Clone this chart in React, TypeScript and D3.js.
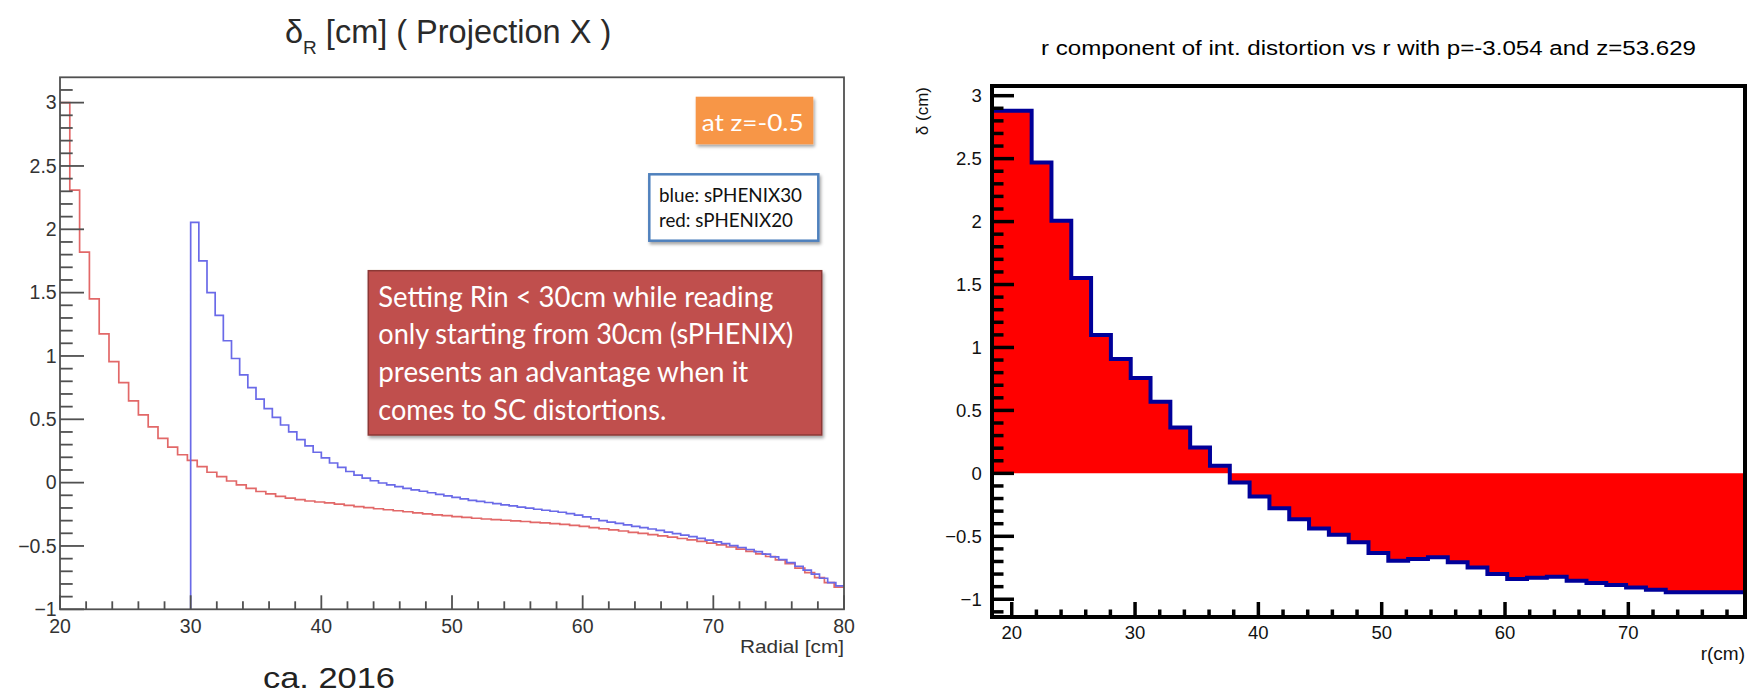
import React from 'react';
import * as d3 from 'd3';

// ---------- Left panel data (80 bins each) ----------
const redRange = [20, 80];
const redValues = [
  3.0, 2.31, 1.82, 1.45, 1.175, 0.955, 0.79, 0.645, 0.535, 0.44,
  0.35, 0.28, 0.22, 0.175, 0.126, 0.082, 0.047, 0.013, -0.018, -0.045,
  -0.07, -0.089, -0.108, -0.122, -0.134, -0.145, -0.153, -0.16, -0.17, -0.18,
  -0.189, -0.198, -0.206, -0.214, -0.222, -0.23, -0.238, -0.246, -0.254, -0.261,
  -0.268, -0.275, -0.281, -0.287, -0.292, -0.297, -0.302, -0.307, -0.313, -0.318,
  -0.324, -0.33, -0.338, -0.346, -0.355, -0.364, -0.373, -0.382, -0.392, -0.401,
  -0.41, -0.42, -0.43, -0.441, -0.452, -0.464, -0.478, -0.492, -0.508, -0.525,
  -0.543, -0.562, -0.583, -0.61, -0.64, -0.675, -0.71, -0.75, -0.79, -0.825,
];
const blueRange = [30, 80];
const blueValues = [
  2.055, 1.75, 1.5, 1.32, 1.12, 0.98, 0.85, 0.75, 0.66, 0.585,
  0.515, 0.455, 0.4, 0.34, 0.29, 0.24, 0.195, 0.155, 0.12, 0.088,
  0.06, 0.035, 0.015, -0.003, -0.018, -0.032, -0.045, -0.057, -0.068, -0.08,
  -0.092, -0.104, -0.116, -0.128, -0.14, -0.148, -0.157, -0.166, -0.176, -0.184,
  -0.193, -0.201, -0.21, -0.218, -0.226, -0.234, -0.245, -0.257, -0.27, -0.285,
  -0.3, -0.311, -0.322, -0.333, -0.345, -0.355, -0.366, -0.377, -0.39, -0.402,
  -0.414, -0.427, -0.44, -0.454, -0.468, -0.482, -0.497, -0.512, -0.528, -0.545,
  -0.565, -0.586, -0.608, -0.632, -0.66, -0.69, -0.722, -0.755, -0.79, -0.815,
];
const leftXTicks = [20, 30, 40, 50, 60, 70, 80];
const leftYTicks = [-1, -0.5, 0, 0.5, 1, 1.5, 2, 2.5, 3];

// ---------- Right panel data (38 bins) ----------
const rightRange = [18.4, 79.46];
const rightValues = [
  2.88, 2.88, 2.47, 2.006, 1.551, 1.1, 0.908, 0.757, 0.569, 0.365,
  0.206, 0.06, -0.072, -0.183, -0.278, -0.365, -0.438, -0.487, -0.548, -0.633,
  -0.694, -0.681, -0.667, -0.707, -0.747, -0.8, -0.84, -0.83, -0.822, -0.853,
  -0.871, -0.887, -0.906, -0.925, -0.945, -0.945, -0.945, -0.945,
];
const rightXTicks = [20, 30, 40, 50, 60, 70];
const rightYTicks = [-1, -0.5, 0, 0.5, 1, 1.5, 2, 2.5, 3];

const annotationLines = [
  'Setting Rin < 30cm while reading',
  'only starting from 30cm (sPHENIX)',
  'presents an advantage when it',
  'comes to SC distortions.',
];
const annotationWidths = [395, 415, 370, 288];
const legendLines = ['blue: sPHENIX30', 'red: sPHENIX20'];
const legendWidths = [143, 134];

const fmt = (v: number) => (v < 0 ? '\u2212' + Math.abs(v) : String(v));

function stepPoints(values: number[], range: number[]): [number, number][] {
  const w = (range[1] - range[0]) / values.length;
  const pts: [number, number][] = values.map((v, i) => [range[0] + i * w, v]);
  pts.push([range[1], values[values.length - 1]]);
  return pts;
}

const isMult = (v: number, m: number) => Math.abs(v / m - Math.round(v / m)) < 1e-6;

const ROOTFONT = '"Liberation Sans", Arial, Helvetica, sans-serif';
const OFFICEFONT = 'Lato, "Open Sans", sans-serif';

export default function App() {
  // Left panel scales
  const xL = d3.scaleLinear().domain([20, 80]).range([60, 844]);
  const yL = d3.scaleLinear().domain([-1, 3.2]).range([609.3, 77.3]);
  const lineL = d3
    .line<[number, number]>()
    .x((d) => xL(d[0]))
    .y((d) => yL(d[1]))
    .curve(d3.curveStepAfter);
  const redPath = lineL(stepPoints(redValues, redRange)) || '';
  const bluePath = lineL([[30, -1], ...stepPoints(blueValues, blueRange)]) || '';

  const leftYMinor = d3.range(0, 42).map((i) => +(-1 + i * 0.1).toFixed(2));
  const leftXMinor = d3.range(0, 31).map((i) => 20 + i * 2);

  // Right panel scales
  const xR = d3.scaleLinear().domain(rightRange).range([992, 1745]);
  const yR = d3.scaleLinear().domain([-1.141, 3.077]).range([617, 86]);
  const ptsR = stepPoints(rightValues, rightRange);
  const areaR =
    d3
      .area<[number, number]>()
      .x((d) => xR(d[0]))
      .y0(yR(0))
      .y1((d) => yR(d[1]))
      .curve(d3.curveStepAfter)(ptsR) || '';
  const lineR =
    d3
      .line<[number, number]>()
      .x((d) => xR(d[0]))
      .y((d) => yR(d[1]))
      .curve(d3.curveStepAfter)(ptsR) || '';
  const rightYMinor = d3.range(0, 42).map((i) => +(-1.1 + i * 0.1).toFixed(2));
  const rightXMinor = d3.range(0, 30).map((i) => 20 + i * 2).filter((v) => v < 79.46);

  const leftGray = '#505050';

  return (
    <svg
      width={1753}
      height={695}
      viewBox="0 0 1753 695"
      style={{ position: 'absolute', left: 0, top: 0, background: '#fff' }}
    >
      <defs>
        <filter id="shadow" x="-10%" y="-10%" width="130%" height="140%">
          <feDropShadow dx="1.5" dy="2.5" stdDeviation="1.5" floodColor="#000" floodOpacity="0.35" />
        </filter>
        <clipPath id="clipL">
          <rect x={60} y={77.3} width={784} height={532} />
        </clipPath>
        <clipPath id="clipR">
          <rect x={992} y={86} width={753} height={531} />
        </clipPath>
      </defs>
      <rect x={0} y={0} width={1753} height={695} fill="#fff" />

      {/* ================= LEFT PANEL ================= */}
      <text x={285} y={43} fontFamily={ROOTFONT} fontSize={32.5} fill="#2a2a2a">
        δ
        <tspan fontSize={19} dy={11}>R</tspan>
        <tspan dy={-11}> [cm] ( Projection X )</tspan>
      </text>

      <g clipPath="url(#clipL)">
        <path d={redPath} fill="none" stroke="#e26868" strokeWidth={1.7} />
        <path d={bluePath} fill="none" stroke="#6a6ae8" strokeWidth={1.7} />
      </g>

      {/* frame */}
      <rect x={60} y={77.3} width={784} height={532} fill="none" stroke={leftGray} strokeWidth={1.8} />
      {/* y ticks */}
      {leftYMinor.map((v) => (
        <line
          key={'lyt' + v}
          x1={60}
          x2={60 + (isMult(v, 0.5) ? 24 : 12.7)}
          y1={yL(v)}
          y2={yL(v)}
          stroke={leftGray}
          strokeWidth={1.8}
        />
      ))}
      {/* x ticks */}
      {leftXMinor.map((v) => (
        <line
          key={'lxt' + v}
          x1={xL(v)}
          x2={xL(v)}
          y1={609.3}
          y2={609.3 - (isMult(v, 10) ? 14 : 8)}
          stroke={leftGray}
          strokeWidth={1.8}
        />
      ))}
      {leftYTicks.map((v) => (
        <text
          key={'lyl' + v}
          x={56.7}
          y={yL(v) + 6.8}
          textAnchor="end"
          fontFamily={ROOTFONT}
          fontSize={19.5}
          fill="#333"
        >
          {fmt(v)}
        </text>
      ))}
      {leftXTicks.map((v) => (
        <text
          key={'lxl' + v}
          x={xL(v)}
          y={632.7}
          textAnchor="middle"
          fontFamily={ROOTFONT}
          fontSize={19.5}
          fill="#333"
        >
          {fmt(v)}
        </text>
      ))}
      <text x={844} y={653} textAnchor="end" fontFamily={ROOTFONT} fontSize={19} fill="#333" textLength={104} lengthAdjust="spacingAndGlyphs">
        Radial [cm]
      </text>
      <text x={263} y={688} fontFamily={ROOTFONT} fontSize={29} fill="#222" textLength={132} lengthAdjust="spacingAndGlyphs">
        ca. 2016
      </text>

      {/* orange box */}
      <rect x={695.7} y={96.7} width={117.6} height={47.6} fill="#f79646" filter="url(#shadow)" />
      <text x={701.7} y={130.7} fontFamily={OFFICEFONT} fontSize={24} fill="#fff" textLength={102} lengthAdjust="spacingAndGlyphs">
        at z=-0.5
      </text>

      {/* legend box */}
      <rect x={649.3} y={174.3} width={169} height={66.4} fill="#fff" stroke="#4f81bd" strokeWidth={2.5} filter="url(#shadow)" />
      {legendLines.map((t, i) => (
        <text
          key={t}
          x={659}
          y={201.7 + i * 25.6}
          fontFamily={OFFICEFONT}
          fontSize={19}
          fill="#111"
          textLength={legendWidths[i]}
          lengthAdjust="spacingAndGlyphs"
        >
          {t}
        </text>
      ))}

      {/* annotation box */}
      <rect x={368.3} y={270.7} width={453.4} height={164.3} fill="#c0504d" stroke="#8c3836" strokeWidth={1.5} filter="url(#shadow)" />
      {annotationLines.map((t, i) => (
        <text
          key={t}
          x={378.3}
          y={306.7 + i * 37.6}
          fontFamily={OFFICEFONT}
          fontSize={29}
          fill="#fff"
          textLength={annotationWidths[i]}
          lengthAdjust="spacingAndGlyphs"
        >
          {t}
        </text>
      ))}

      {/* ================= RIGHT PANEL ================= */}
      <text x={1041} y={55} fontFamily={ROOTFONT} fontSize={19.5} fill="#000" textLength={655} lengthAdjust="spacingAndGlyphs">
        r component of int. distortion vs r with p=-3.054 and z=53.629
      </text>

      <g clipPath="url(#clipR)">
        <path d={areaR} fill="#ff0000" stroke="none" />
        <path d={lineR} fill="none" stroke="#000099" strokeWidth={4} />
      </g>

      {rightYMinor.map((v) => (
        <line
          key={'ryt' + v}
          x1={992}
          x2={992 + (isMult(v, 0.5) ? 22 : 11.5)}
          y1={yR(v)}
          y2={yR(v)}
          stroke="#000"
          strokeWidth={3.5}
        />
      ))}
      {rightXMinor.map((v) => (
        <line
          key={'rxt' + v}
          x1={xR(v)}
          x2={xR(v)}
          y1={617}
          y2={617 - (isMult(v, 10) ? 15 : 7.5)}
          stroke="#000"
          strokeWidth={3.5}
        />
      ))}
      <rect x={992} y={86} width={753} height={531} fill="none" stroke="#000" strokeWidth={4} />

      {rightYTicks.map((v) => (
        <text
          key={'ryl' + v}
          x={981.7}
          y={yR(v) + 6.5}
          textAnchor="end"
          fontFamily={ROOTFONT}
          fontSize={18.5}
          fill="#111"
        >
          {fmt(v)}
        </text>
      ))}
      {rightXTicks.map((v) => (
        <text
          key={'rxl' + v}
          x={xR(v)}
          y={639.3}
          textAnchor="middle"
          fontFamily={ROOTFONT}
          fontSize={18.5}
          fill="#111"
        >
          {fmt(v)}
        </text>
      ))}
      <text x={1745} y={660} textAnchor="end" fontFamily={ROOTFONT} fontSize={19} fill="#111">
        r(cm)
      </text>
      <text
        transform="translate(928,87) rotate(-90)"
        textAnchor="end"
        fontFamily={ROOTFONT}
        fontSize={17}
        fill="#111"
      >
        δ (cm)
      </text>
    </svg>
  );
}
